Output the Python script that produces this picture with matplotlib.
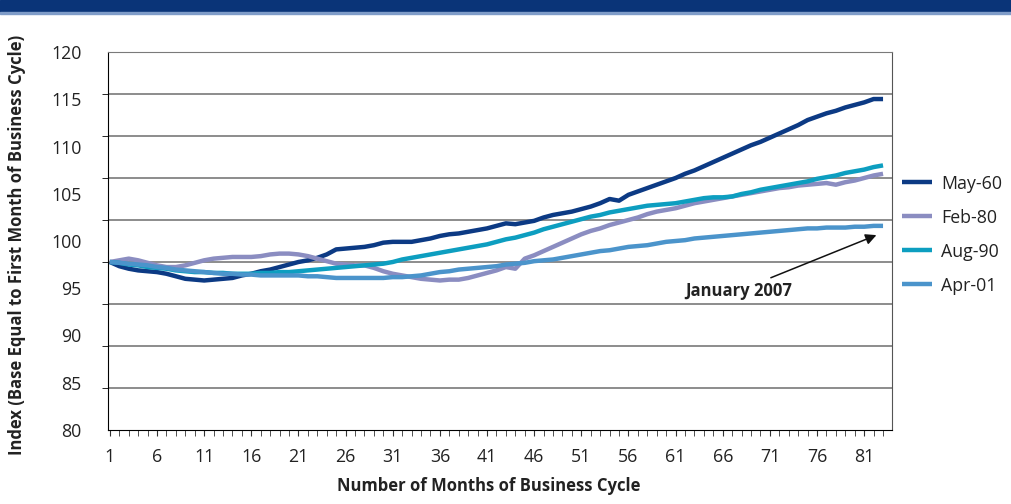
#!/usr/bin/env python3
"""Business cycle index comparison: May-60, Feb-80, Aug-90, Apr-01."""
import numpy as np
import matplotlib
matplotlib.use("Agg")
import matplotlib.pyplot as plt
from matplotlib.patches import Rectangle

plt.rcParams['font.family'] = ['Open Sans', 'DejaVu Sans']

months = np.arange(1, 84)

may60 = [
    100.0, 99.5, 99.2, 99.0, 98.9, 98.8, 98.6, 98.3, 98.0, 97.9,
    97.8, 97.9, 98.0, 98.1, 98.4, 98.6, 98.9, 99.1, 99.4, 99.7,
    100.0, 100.2, 100.5, 100.9, 101.5, 101.6, 101.7, 101.8, 102.0, 102.3,
    102.4, 102.4, 102.4, 102.6, 102.8, 103.1, 103.3, 103.4, 103.6, 103.8,
    104.0, 104.3, 104.6, 104.5, 104.7, 104.9, 105.3, 105.6, 105.8, 106.0,
    106.3, 106.6, 107.0, 107.5, 107.3, 108.0, 108.4, 108.8, 109.2, 109.6,
    110.0, 110.5, 110.9, 111.4, 111.9, 112.4, 112.9, 113.4, 113.9, 114.3,
    114.8, 115.3, 115.8, 116.3, 116.9, 117.3, 117.7, 118.0, 118.4, 118.7,
    119.0, 119.4, 119.4,
]
feb80 = [
    100.0, 100.2, 100.4, 100.2, 99.9, 99.6, 99.4, 99.4, 99.6, 99.9,
    100.2, 100.4, 100.5, 100.6, 100.6, 100.6, 100.7, 100.9, 101.0, 101.0,
    100.9, 100.7, 100.4, 100.1, 99.8, 99.7, 99.6, 99.6, 99.3, 98.9,
    98.6, 98.4, 98.2, 98.0, 97.9, 97.8, 97.9, 97.9, 98.1, 98.4,
    98.7, 99.0, 99.4, 99.2, 100.4, 100.8, 101.3, 101.8, 102.3, 102.8,
    103.3, 103.7, 104.0, 104.4, 104.7, 105.0, 105.3, 105.7, 106.0, 106.2,
    106.4, 106.7, 107.0, 107.2, 107.4, 107.6, 107.8, 108.0, 108.2, 108.4,
    108.6, 108.8, 108.9, 109.1, 109.2, 109.3, 109.4, 109.2, 109.5, 109.7,
    110.0, 110.3, 110.5,
]
aug90 = [
    100.0, 99.9, 99.7, 99.6, 99.4, 99.3, 99.2, 99.0, 98.9, 98.8,
    98.8, 98.7, 98.7, 98.6, 98.6, 98.6, 98.7, 98.7, 98.8, 98.8,
    98.9, 99.0, 99.1, 99.2, 99.3, 99.4, 99.5, 99.6, 99.7, 99.8,
    100.0, 100.3, 100.5, 100.7, 100.9, 101.1, 101.3, 101.5, 101.7, 101.9,
    102.1, 102.4, 102.7, 102.9, 103.2, 103.5, 103.9, 104.2, 104.5, 104.8,
    105.1, 105.4, 105.6, 105.9, 106.1, 106.3, 106.5, 106.7, 106.8, 106.9,
    107.0, 107.2, 107.4, 107.6, 107.7, 107.7, 107.8, 108.1, 108.3, 108.6,
    108.8, 109.0, 109.2, 109.4, 109.6, 109.9, 110.1, 110.3, 110.6, 110.8,
    111.0, 111.3, 111.5,
]
apr01 = [
    100.0, 99.9, 99.8, 99.7, 99.6, 99.4, 99.3, 99.1, 99.0, 98.9,
    98.8, 98.7, 98.6, 98.6, 98.5, 98.5, 98.4, 98.4, 98.4, 98.4,
    98.4, 98.3, 98.3, 98.2, 98.1, 98.1, 98.1, 98.1, 98.1, 98.1,
    98.2, 98.2, 98.3, 98.4, 98.6, 98.8, 98.9, 99.1, 99.2, 99.3,
    99.4, 99.5, 99.7, 99.8, 99.9, 100.1, 100.2, 100.3, 100.5, 100.7,
    100.9, 101.1, 101.3, 101.4, 101.6, 101.8, 101.9, 102.0, 102.2, 102.4,
    102.5, 102.6, 102.8, 102.9, 103.0, 103.1, 103.2, 103.3, 103.4, 103.5,
    103.6, 103.7, 103.8, 103.9, 104.0, 104.0, 104.1, 104.1, 104.1, 104.2,
    104.2, 104.3, 104.3,
]

series = [("May-60", may60, "#0c3a84"), ("Feb-80", feb80, "#8b8dc1"),
          ("Aug-90", aug90, "#0d9ec0"), ("Apr-01", apr01, "#4b94cb")]

y_grid = np.arange(80, 126, 5)
y_labels = [str(v) for v in range(80, 121, 5)]
x_labels = list(range(1, 82, 5))

fig = plt.figure(figsize=(10.11, 5.04), dpi=100)
# top banner
fig.patches.append(Rectangle((0, 1 - 12 / 504), 1, 12 / 504, transform=fig.transFigure,
                             color="#0a3478", zorder=0))
fig.patches.append(Rectangle((0, 1 - 14 / 504), 1, 2 / 504, transform=fig.transFigure,
                             color="#7f9cc8", zorder=0))

ax = fig.add_axes([108 / 1011, 1 - 430 / 504, 784 / 1011, 378 / 504])
for name, vals, col in series:
    ax.plot(months, vals, color=col, linewidth=3.2, label=name, solid_capstyle="butt")

ax.set_xlim(0.8, 83.95)
ax.set_ylim(80, 125)

# gridlines / tick marks every 5, labels spread over the axis like the source
ax.set_yticks(y_grid, minor=True)
ax.set_yticks(np.linspace(80, 125, 9))
ax.set_yticklabels(y_labels)
ax.grid(axis="y", which="minor", color="#6e6e6e", linewidth=1.1)
ax.tick_params(axis="y", which="major", length=0, pad=19, labelsize=12.8,
               labelcolor="#222222")
ax.tick_params(axis="y", which="minor", length=4, direction="out", color="black")

ax.set_xticks(x_labels)
ax.set_xticks(months, minor=True)
ax.tick_params(axis="x", which="both", length=4, direction="out", color="#333333",
               pad=9, labelsize=12.8, labelcolor="#222222")

ax.spines["top"].set_color("#7a7a7a")
ax.spines["right"].set_color("#555555")
for s in ["left", "bottom"]:
    ax.spines[s].set_color("black")

ax.set_ylabel("Index (Base Equal to First Month of Business Cycle)", fontsize=12,
              fontweight="bold", color="#222222")
ax.yaxis.set_label_coords(-0.104, 0.49)
ax.set_xlabel("Number of Months of Business Cycle", fontsize=12, fontweight="bold",
              color="#222222")
ax.xaxis.set_label_coords(0.486, -0.125)

ax.annotate("January 2007", xy=(82.3, 103.2), xytext=(73.4, 96.6),
            fontsize=12, fontweight="bold", color="#222222", ha="right", va="center",
            arrowprops=dict(arrowstyle="-|>", color="#111111", lw=1.1,
                            mutation_scale=16, shrinkA=2, shrinkB=0))

leg = ax.legend(loc="center left", bbox_to_anchor=(1.004, 0.517), frameon=False,
                fontsize=12.8, handlelength=1.7, labelspacing=0.9,
                handletextpad=0.5, borderaxespad=0)
for t in leg.get_texts():
    t.set_color("#222222")

plt.savefig("out.png", dpi=100)
